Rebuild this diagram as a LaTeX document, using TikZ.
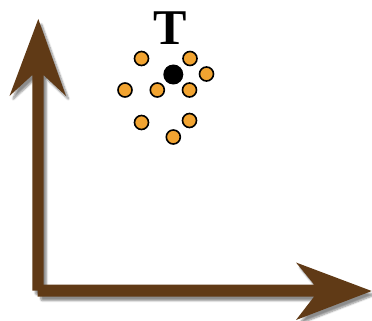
\documentclass[tikz,border=0pt]{standalone}
\usepackage{fontspec}
\setmainfont{Liberation Serif}
\usetikzlibrary{shadows.blur}
\definecolor{axbrown}{RGB}{96,58,22}
\definecolor{dotorange}{RGB}{242,164,49}
\tikzset{
  axisarrow/.style={fill=axbrown, draw=none, blur shadow={shadow xshift=3pt, shadow yshift=-4pt, shadow blur steps=6, shadow blur extra rounding=2pt, shadow opacity=45}},
  pt/.style={circle, draw=black, line width=1.6pt, fill=dotorange, minimum size=14pt, inner sep=0pt},
  ptblack/.style={circle, fill=black, minimum size=20pt, inner sep=0pt},
}
\begin{document}
\begin{tikzpicture}[x=1pt,y=-1pt]
\useasboundingbox (0,0) rectangle (372,321);
% vertical axis
\path[axisarrow] (38.3,19) -- (66,96) -- (43.5,75) -- (43.5,290.7) -- (32.3,290.7) -- (32.3,75) -- (9.5,96) -- cycle;
% horizontal axis
\path[axisarrow] (371.7,291) -- (296,320) -- (314,296.7) -- (37.7,296.7) -- (37.7,284.5) -- (314,284.5) -- (296,262.5) -- cycle;
\coordinate (vtip) at (38.3,19);
\coordinate (htip) at (371.7,291);
% label
\node[anchor=base, inner sep=0pt, font=\fontsize{50}{50}\selectfont\bfseries] (T) at (170,45) {T};
% points
\node[pt] (p1) at (141.5,58.5) {};
\node[pt] (p2) at (190,58.5) {};
\node[ptblack] (p3) at (173.3,74.5) {};
\node[pt] (p4) at (206.5,74) {};
\node[pt] (p5) at (125,90) {};
\node[pt] (p6) at (157.3,90) {};
\node[pt] (p7) at (189.5,90) {};
\node[pt] (p8) at (141.5,122.5) {};
\node[pt] (p9) at (189.5,120.5) {};
\node[pt] (p10) at (173.3,137) {};
\end{tikzpicture}
\end{document}
